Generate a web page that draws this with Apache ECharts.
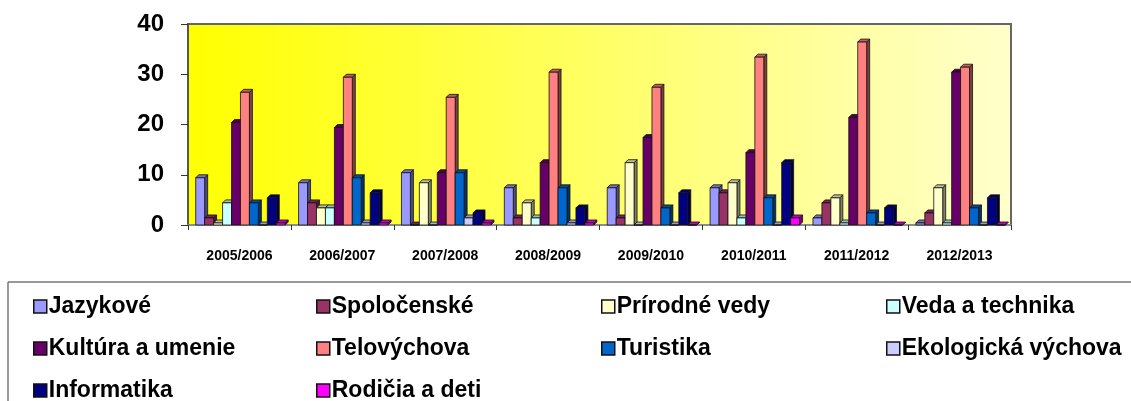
<!DOCTYPE html>
<html>
<head>
<meta charset="utf-8">
<script src="https://cdn.jsdelivr.net/npm/echarts@6/dist/echarts.min.js"></script>
<style>
  html, body { margin: 0; padding: 0; background: #fff; }
  #chart { width: 1131px; height: 401px; }
</style>
</head>
<body>
<div id="chart"></div>
<script>
// roky
const categories = ['2005/2006', '2006/2007', '2007/2008', '2008/2009', '2009/2010', '2010/2011', '2011/2012', '2012/2013'];
const yTicks = [0, 10, 20, 30, 40];

const jazykove = [10, 9, 11, 8, 8, 8, 2, 1];
const spolocenske = [2, 5, 0, 2, 2, 7, 5, 3];
const prirodne = [1, 4, 9, 5, 13, 9, 6, 8];
const veda = [5, 4, 0, 2, 0, 2, 1, 1];
const kultura = [21, 20, 11, 13, 18, 15, 22, 31];
const telovychova = [27, 30, 26, 31, 28, 34, 37, 32];
const turistika = [5, 10, 11, 8, 4, 6, 3, 4];
const ekologicka = [0, 1, 2, 1, 0, 0, 0, 0];
const informatika = [6, 7, 3, 4, 7, 13, 4, 6];
const rodicia = [1, 1, 1, 1, 0, 2, 0, 0];

const seriesNames = ['Jazykové', 'Spoločenské', 'Prírodné vedy', 'Veda a technika', 'Kultúra a umenie',
    'Telovýchova', 'Turistika', 'Ekologická výchova', 'Informatika', 'Rodičia a deti'];
const seriesData = [jazykove, spolocenske, prirodne, veda, kultura, telovychova, turistika, ekologicka, informatika, rodicia];
const colors = ['#9999FF', '#993366', '#FFFFCC', '#CCFFFF', '#660066', '#FF8080', '#0066CC', '#CCCCFF', '#000080', '#FF00FF'];

function darken(hex, f) {
    let r = parseInt(hex.substr(1, 2), 16), g = parseInt(hex.substr(3, 2), 16), b = parseInt(hex.substr(5, 2), 16);
    return 'rgb(' + Math.round(r * f) + ',' + Math.round(g * f) + ',' + Math.round(b * f) + ')';
}

let myChart = echarts.init(document.getElementById('chart'));

// 3D stlpec: predna stena, bocna stena, vrch
function make3d(k) {
    return function (params, api) {
        let cat = api.value(0);
        let top = api.coord([cat, api.value(1)]);
        let base = api.coord([cat, 0]);
        let bandW = api.size([1, 0])[0];
        let slot = bandW * 0.087;
        let d = 3;
        let x = base[0] - bandW / 2 + bandW * 0.075 + k * slot;
        let w = slot;
        let y0 = base[1];
        let yt = Math.min(y0, top[1] + d);
        let c = colors[k];
        return {
            type: 'group',
            children: [
                {
                    type: 'polygon',
                    shape: { points: [[x + w, yt], [x + w + d, yt - d], [x + w + d, y0 - d], [x + w, y0]] },
                    style: { fill: darken(c, 0.5), stroke: '#111', lineWidth: 0.8 }
                },
                {
                    type: 'polygon',
                    shape: { points: [[x, yt], [x + d, yt - d], [x + w + d, yt - d], [x + w, yt]] },
                    style: { fill: darken(c, 0.75), stroke: '#111', lineWidth: 0.8 }
                },
                {
                    type: 'rect',
                    shape: { x: x, y: yt, width: w, height: y0 - yt },
                    style: { fill: c, stroke: '#111', lineWidth: 0.8 }
                }
            ]
        };
    };
}

let series = seriesData.map(function (arr, k) {
    return {
        name: seriesNames[k],
        type: 'custom',
        renderItem: make3d(k),
        itemStyle: { color: colors[k] },
        encode: { x: 0, y: 1 },
        data: arr.map(function (v, i) { return [i, v]; }),
        z: 2
    };
});

// legenda: 4 stlpce, 3 riadky
let legendLeft = [28, 311, 596, 881];
let legendTop = [290, 332, 374];
let legends = seriesNames.map(function (name, k) {
    return {
        left: legendLeft[k % 4],
        top: legendTop[Math.floor(k / 4)],
        itemWidth: 13,
        itemHeight: 13,
        icon: 'rect',
        selectedMode: false,
        data: [{ name: name, itemStyle: { color: colors[k], borderColor: '#111', borderWidth: 1.5 } }],
        textStyle: {
            color: '#000',
            fontFamily: 'Liberation Sans, Arial',
            fontWeight: 'bold',
            fontSize: 23,
            padding: [0, 0, 0, -3]
        }
    };
});

let option = {
    animation: false,
    color: colors,
    grid: {
        left: 188,
        right: 120,
        top: 24,
        bottom: 176,
        show: true,
        borderColor: '#666',
        borderWidth: 2,
        backgroundColor: new echarts.graphic.LinearGradient(0, 0, 1, 0, [
            { offset: 0, color: '#FFFF00' },
            { offset: 1, color: '#FFFFCC' }
        ])
    },
    legend: legends,
    graphic: [
        { type: 'line', shape: { x1: 8, y1: 282, x2: 1131, y2: 282 }, style: { stroke: '#777', lineWidth: 1.5 } },
        { type: 'line', shape: { x1: 8, y1: 282, x2: 8, y2: 401 }, style: { stroke: '#777', lineWidth: 1.5 } }
    ],
    xAxis: {
        type: 'category',
        data: categories,
        axisLine: { show: true, lineStyle: { color: '#999', width: 1.5 } },
        axisTick: { show: true, length: 5, lineStyle: { color: '#333' } },
        axisLabel: {
            color: '#000',
            fontFamily: 'Liberation Sans, Arial',
            fontWeight: 'bold',
            fontSize: 14,
            margin: 24
        },
        splitLine: { show: false }
    },
    yAxis: {
        type: 'value',
        min: yTicks[0],
        max: yTicks[yTicks.length - 1],
        interval: 10,
        axisLine: { show: true, lineStyle: { color: '#555', width: 2 } },
        axisTick: { show: true, length: 7, lineStyle: { color: '#333' } },
        axisLabel: {
            color: '#000',
            fontFamily: 'Liberation Sans, Arial',
            fontWeight: 'bold',
            fontSize: 24,
            margin: 24
        },
        splitLine: { show: false }
    },
    series: series
};
myChart.setOption(option);
</script>
</body>
</html>
